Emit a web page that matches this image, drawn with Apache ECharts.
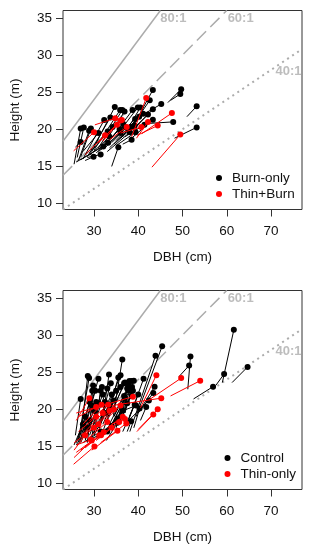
<!DOCTYPE html>
<html>
<head>
<meta charset="utf-8">
<script src="https://cdn.jsdelivr.net/npm/echarts@6/dist/echarts.min.js"></script>
<style>
html,body{margin:0;padding:0;background:#fff;}
#chart{width:312px;height:550px;}
</style>
</head>
<body>
<div id="chart"></div>
<script>
// ---- Axis ticks ----
const xTicks = [30, 40, 50, 60, 70];
const yTicks = [10, 15, 20, 25, 30, 35];
const xRange = [23, 77];
const yRange = [9.2, 36.0];

// ---- Reference ratio lines (height:DBH) ----
const ratios = [80, 60, 40];
const ratioLabels = ['80:1', '60:1', '40:1'];
const ratioLabelX = [45.0, 60.2, 71.0];
const ratioLabelY = [35.0, 35.0, 27.8];

// ---- Top panel: Burn-only (pre -> post) ----
const burnPreDBH  = [25.5,26.2,25.8,27.0,26.5,27.5,28.5,29.5,30.0,31.0,32.0,34.0,28.5,26.0,27.0,28.0,29.0,30.5,31.5,33.0,33.5,34.5,35.0,34.0,35.0,36.0,37.0,37.5,34.0,35.5,36.5,37.5,38.0,39.0,38.5,41.4,42.5,46.7,47.3,51.0,48.2,28.0,29.0,31.0,32.5,27.5,36.5];
const burnPreH    = [15.3,16.2,17.6,16.3,15.8,16.0,16.3,17.0,17.2,17.5,17.8,15.0,16.2,15.6,15.9,16.5,16.8,16.8,17.2,17.0,17.5,18.0,17.8,18.2,18.5,18.8,19.0,19.3,18.8,19.5,19.0,19.5,19.5,20.0,18.8,22.1,20.8,23.6,23.9,21.7,18.8,15.8,16.5,17.0,17.5,17.0,18.0];
const burnPostDBH = [27.0,27.7,27.0,29.3,28.9,32.3,33.7,34.7,35.9,36.4,36.9,35.5,31.5,32.1,33.2,33.1,34.2,35.8,36.6,38.1,38.4,39.2,39.4,39.3,40.2,41.1,41.4,42.2,38.7,39.9,40.5,42.6,43.3,43.3,43.3,45.2,47.9,49.7,49.5,53.2,53.2,29.9,33.5,36.0,37.0,31.0,38.5];
const burnPostH   = [20.1,20.25,18.3,20.1,19.8,21.25,21.6,23.0,22.6,22.6,22.4,17.6,16.6,17.7,18.2,19.7,20.3,20.0,20.7,19.6,20.3,20.5,19.6,21.4,21.7,22.1,20.6,22.0,22.6,22.95,22.95,23.9,25.3,22.7,21.3,23.4,21.0,25.4,24.75,23.1,20.26,16.3,19.0,19.5,20.3,19.5,18.6];

// ---- Top panel: Thin+Burn ----
const tbPreDBH  = [25.4,28.0,30.2,31.0,32.0,33.5,38.5,39.6,39.8,40.8,43.1,36.0,31.5];
const tbPreH    = [17.1,16.6,20.6,18.2,18.4,18.6,19.0,18.8,19.2,19.4,14.9,19.5,18.5];
const tbPostDBH = [30.0,32.5,34.8,36.3,35.2,37.4,41.8,42.2,44.4,47.6,49.5,40.7,36.0];
const tbPostH   = [19.6,19.2,21.5,21.25,20.6,20.3,24.2,21.0,20.5,22.2,19.3,20.3,21.2];

// ---- Bottom panel: Control ----
const ctlPreDBH  = [59.0,57.5,52.5,61.2,51.2,49.2,39.5,38.1,34.4,32.0,27.0,26.5,27.5,27.0,27.5,25.8,40.5,40.0,37.5,35.5,34.5,39.0,40.5,37.5,37.0,31.5,28.0,29.0,30.0,31.0,32.0,33.0,33.5,34.0,34.5,30.0,29.0,28.0,27.0,26.5,26.0,27.5,28.5,30.5,31.0,32.5,33.5,35.0,36.0,35.5,29.5,28.5,30.0,31.0,32.0,26.0,25.5,26.5,32.8,36.5,35.0,31.5,30.0,33.0,29.0,34.0,36.0,37.0,38.0,36.5];
const ctlPreH    = [23.6,23.2,21.4,23.6,22.7,24.4,19.0,17.0,19.2,19.0,16.5,16.0,17.0,16.0,16.5,16.5,20.0,19.5,18.0,18.5,19.0,17.5,18.5,17.0,18.0,18.0,16.0,16.5,17.0,17.5,18.0,18.5,18.0,18.0,18.5,16.5,16.0,15.8,15.5,15.3,15.2,15.5,15.8,16.0,16.5,17.0,17.5,18.0,18.5,19.0,16.0,15.5,16.5,16.8,17.0,15.5,15.2,15.8,15.8,17.0,17.5,18.5,18.0,19.0,17.5,19.5,19.0,19.5,19.0,19.8];
const ctlPostDBH = [61.6,59.4,56.9,64.7,51.8,51.5,45.4,43.9,36.4,33.4,28.6,28.9,31.0,29.6,30.3,27.0,43.7,43.4,41.2,39.0,38.5,40.3,41.8,38.4,42.4,36.0,32.0,33.0,34.0,35.0,36.0,37.0,37.5,38.0,37.0,33.5,32.5,31.0,30.0,29.0,28.5,31.5,33.0,34.0,35.5,36.5,37.5,38.5,38.8,37.8,30.5,29.5,31.5,32.5,34.5,28.0,27.5,29.0,35.3,39.2,36.8,33.8,31.8,35.5,29.8,36.8,38.0,38.6,40.0,39.5];
const ctlPostH   = [30.7,24.75,23.05,25.7,27.1,25.9,28.5,27.2,26.7,24.7,24.5,24.2,24.1,22.5,22.5,21.4,23.05,22.2,24.1,23.85,23.8,20.1,20.3,18.4,21.2,24.6,22.0,22.8,22.0,22.5,23.0,23.6,22.8,22.5,21.5,20.5,19.5,20.8,19.8,18.5,17.5,17.0,17.0,17.8,18.8,19.8,20.8,21.8,22.5,23.2,21.0,20.5,22.5,21.0,21.2,19.0,18.0,21.0,18.2,20.6,21.8,23.5,23.0,24.3,23.2,23.5,23.8,23.0,22.0,20.5];

// ---- Bottom panel: Thin-only ----
const thPreDBH  = [42.5,47.3,26.0,34.0,40.0,39.7,40.5,25.4,25.5,26.0,29.5,31.5,30.5,28.0,27.0,26.0,26.0,27.5,29.0,26.5,27.0,28.0,29.0,30.0,28.5,31.0,25.5,32.5,33.0,26.5,34.0,25.5];
const thPreH    = [21.3,21.8,19.5,20.5,17.3,17.0,20.2,12.6,13.5,14.2,14.5,15.5,15.8,14.8,14.5,15.2,18.5,18.0,18.5,17.0,16.5,17.0,17.0,17.5,16.0,16.5,15.5,18.5,17.5,19.0,18.0,14.5];
const thPostDBH = [49.7,54.0,38.8,45.2,44.4,43.4,44.1,30.1,29.5,31.2,35.3,37.3,35.7,32.2,31.6,29.3,28.95,31.7,33.2,30.5,31.0,32.0,33.5,34.5,33.0,34.0,30.0,36.0,36.5,30.5,37.0,28.0];
const thPostH   = [24.2,23.85,21.7,21.5,20.0,19.3,24.6,15.0,15.8,16.5,17.1,18.1,18.3,16.9,16.5,15.9,21.5,20.6,20.6,19.0,18.0,19.5,19.8,20.0,18.3,17.5,17.5,20.5,19.0,20.3,18.7,16.5];

// ---- helpers ----
function segs(pX, pY, qX, qY) {
  return pX.map((v, i) => ({ coords: [[v, pY[i]], [qX[i], qY[i]]] }));
}
function pts(qX, qY) { return qX.map((v, i) => [v, qY[i]]); }

const GREY = '#acacac';
const FONT = 'Liberation Sans, Arial, sans-serif';
const lineTypes = ['solid', [13, 6], [2, 4]];
const lineWidths = [1.5, 1.5, 2];

function refSeries(ax) {
  const out = [];
  ratios.forEach((r, i) => {
    const k = r / 100;
    const x0 = Math.max(xRange[0], yRange[0] / k);
    const x1 = Math.min(xRange[1], yRange[1] / k);
    out.push({
      type: 'lines', coordinateSystem: 'cartesian2d', xAxisIndex: ax, yAxisIndex: ax,
      silent: true, z: 1,
      lineStyle: { color: GREY, width: lineWidths[i], type: lineTypes[i], opacity: 1 },
      data: [{ coords: [[x0, x0 * k], [x1, x1 * k]] }]
    });
  });
  out.push({
    type: 'scatter', xAxisIndex: ax, yAxisIndex: ax, symbolSize: 0, silent: true, z: 2,
    data: ratioLabels.map((t, i) => ({ value: [ratioLabelX[i], ratioLabelY[i]], name: t })),
    label: { show: true, position: 'right', distance: 0, formatter: p => p.name,
      color: GREY, fontWeight: 'bold', fontSize: 13, fontFamily: FONT }
  });
  return out;
}

function groupSeries(ax, name, color, pX, pY, qX, qY, z) {
  return [
    { type: 'lines', coordinateSystem: 'cartesian2d', xAxisIndex: ax, yAxisIndex: ax,
      name: name + ' seg', silent: true, z: z,
      lineStyle: { color: color, width: 1, opacity: 1 },
      data: segs(pX, pY, qX, qY) },
    { type: 'scatter', xAxisIndex: ax, yAxisIndex: ax, name: name, z: z + 1,
      symbol: 'circle', symbolSize: 6, itemStyle: { color: color, opacity: 1 },
      data: pts(qX, qY) }
  ];
}

function xAxis(idx) {
  return {
    type: 'value', gridIndex: idx, min: xRange[0], max: xRange[1],
    name: 'DBH (cm)', nameLocation: 'middle', nameGap: 41,
    nameTextStyle: { color: '#111', fontSize: 13.5, fontFamily: FONT },
    axisLine: { show: false },
    axisTick: { show: true, length: 7, inside: false, customValues: xTicks, lineStyle: { color: '#333' } },
    axisLabel: { customValues: xTicks, margin: 15, color: '#111', fontSize: 13.5, fontFamily: FONT },
    splitLine: { show: false }
  };
}
function yAxis(idx) {
  return {
    type: 'value', gridIndex: idx, min: yRange[0], max: yRange[1],
    name: 'Height (m)', nameLocation: 'middle', nameGap: 41, nameRotate: 90,
    nameTextStyle: { color: '#111', fontSize: 13.5, fontFamily: FONT },
    axisLine: { show: false },
    axisTick: { show: true, length: 7, inside: false, customValues: yTicks, lineStyle: { color: '#333' } },
    axisLabel: { customValues: yTicks, margin: 11, color: '#111', fontSize: 13.5, fontFamily: FONT },
    splitLine: { show: false }
  };
}

function legendAt(names, left, top) {
  return { data: names, orient: 'vertical', left: left, top: top, itemWidth: 6, itemHeight: 6,
    itemGap: 1, icon: 'circle', selectedMode: false,
    textStyle: { fontSize: 13.5, fontFamily: FONT, color: '#111', padding: [0, 0, 0, 5], lineHeight: 15 } };
}

const chart = echarts.init(document.getElementById('chart'), null, { renderer: 'canvas' });
chart.setOption({
  animation: false,
  backgroundColor: '#fff',
  grid: [
    { left: 61, top: 10.5, width: 241, height: 199, show: true, borderColor: '#333', borderWidth: 1, backgroundColor: 'transparent' },
    { left: 61, top: 290.5, width: 241, height: 199, show: true, borderColor: '#333', borderWidth: 1, backgroundColor: 'transparent' }
  ],
  xAxis: [xAxis(0), xAxis(1)],
  yAxis: [yAxis(0), yAxis(1)],
  legend: [
    legendAt(['Burn-only', 'Thin+Burn'], 211, 165.5),
    legendAt(['Control', 'Thin-only'], 219.5, 445.5)
  ],
  series: [].concat(
    refSeries(0), refSeries(1),
    groupSeries(0, 'Burn-only', '#000', burnPreDBH, burnPreH, burnPostDBH, burnPostH, 3),
    groupSeries(0, 'Thin+Burn', '#ff0000', tbPreDBH, tbPreH, tbPostDBH, tbPostH, 5),
    groupSeries(1, 'Control', '#000', ctlPreDBH, ctlPreH, ctlPostDBH, ctlPostH, 3),
    groupSeries(1, 'Thin-only', '#ff0000', thPreDBH, thPreH, thPostDBH, thPostH, 5)
  )
});
</script>
</body>
</html>
